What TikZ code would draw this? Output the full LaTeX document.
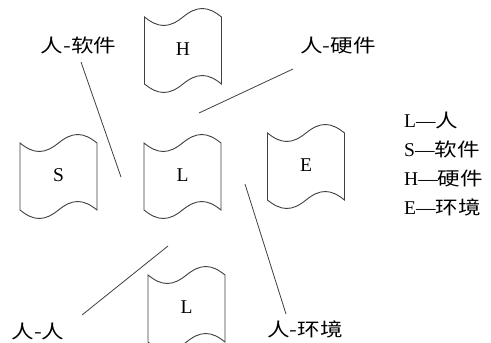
\documentclass[tikz,border=0pt]{standalone}
\usepackage{fontspec}
\setmainfont{Liberation Serif}
\newfontfamily\cjkfont[FakeStretch=1.22]{Noto Sans CJK SC}
\newcommand\cj[1]{{\fontsize{18.5}{21}\cjkfont #1}}
\tikzset{
  tapeline/.style={draw=black!75, line width=0.9pt},
  leader/.style={draw=black!75, line width=0.8pt},
  boxtext/.style={font=\fontsize{19.5}{22}\selectfont, inner sep=0pt},
  lab/.style={inner sep=0pt},
  legend/.style={font=\fontsize{19.5}{22}\selectfont, inner sep=0pt, anchor=west}
}
\newcommand\tapebox[4]{%
  \begin{scope}[shift={(#2,#3)}]
    \draw[tapeline] (-38.5,-33.5) .. controls (-24.6,-22.2) and (-13.9,-22.2) .. (0,-33.5)
      .. controls (13.9,-44.8) and (24.6,-44.8) .. (38.5,-33.5) -- (38.5,33.5)
      .. controls (24.6,22.2) and (13.9,22.2) .. (0,33.5)
      .. controls (-13.9,44.8) and (-24.6,44.8) .. (-38.5,33.5) -- cycle;
  \end{scope}
  \node[boxtext] (#1) at (#2,#3-1.5) {#4};
}
\begin{document}
\begin{tikzpicture}[x=1pt,y=-1pt]
\useasboundingbox[fill=white] (0,0) rectangle (491,343);
\tapebox{H}{183}{50.5}{H}
\tapebox{S}{58.5}{176.5}{S}
\tapebox{L}{182.5}{176.5}{L}
\tapebox{E}{306}{166.5}{E}
\tapebox{L2}{186.5}{308.5}{L}

\node[lab] (lsw) at (78.5,45) {\cj{人-软件}};
\node[lab] (lhw) at (338,46) {\cj{人-硬件}};
\node[lab] (lhh) at (38,331) {\cj{人-人}};
\node[lab] (lenv) at (305,329) {\cj{人-环境}};

\coordinate (a1) at (81,62);   \coordinate (a2) at (121,177);
\coordinate (b1) at (293,69);  \coordinate (b2) at (199,113);
\coordinate (c1) at (168,246); \coordinate (c2) at (82,315);
\coordinate (d1) at (245,184); \coordinate (d2) at (286,314);
\draw[leader] (a1) -- (a2);
\draw[leader] (b1) -- (b2);
\draw[leader] (c1) -- (c2);
\draw[leader] (d1) -- (d2);

\node[legend] (g1) at (404,120) {L—\cj{人}};
\node[legend] (g2) at (404,149.5) {S—\cj{软件}};
\node[legend] (g3) at (404,178.5) {H—\cj{硬件}};
\node[legend] (g4) at (404,207.5) {E—\cj{环境}};
\end{tikzpicture}
\end{document}
